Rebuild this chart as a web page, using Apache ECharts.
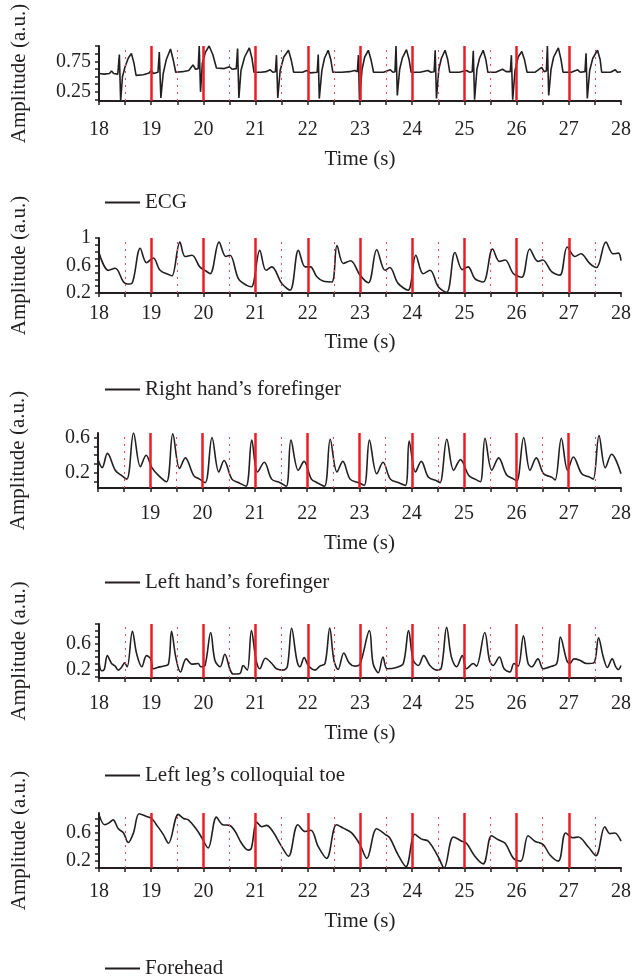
<!DOCTYPE html>
<html>
<head>
<meta charset="utf-8">
<script src="https://cdn.jsdelivr.net/npm/echarts@6/dist/echarts.min.js"></script>
<style>
html, body { margin: 0; padding: 0; background: #fff; }
#main { width: 635px; height: 976px; }
</style>
</head>
<body>
<div id="main"></div>
<script>
// time ticks / labels
var timeTicks = [18, 18.5, 19, 19.5, 20, 20.5, 21, 21.5, 22, 22.5, 23, 23.5, 24, 24.5, 25, 25.5, 26, 26.5, 27, 27.5, 28];
var timeLabels = [18, 19, 20, 21, 22, 23, 24, 25, 26, 27, 28];
var redSolid = [19, 20, 21, 22, 23, 24, 25, 26, 27];
var redDotted = [18.5, 19.5, 20.5, 21.5, 22.5, 23.5, 24.5, 25.5, 26.5, 27.5];

var seriesNames = ['ECG', 'Right hand\u2019s forefinger', 'Left hand\u2019s forefinger', 'Left leg\u2019s colloquial toe', 'Forehead'];

// ECG
var ecg = [
  [18.00,0.55],[18.10,0.54],[18.20,0.55],[18.24,0.59],[18.28,0.55],[18.36,0.54],[18.39,0.86],[18.415,0.10],[18.45,0.50],[18.50,0.66],[18.56,0.80],[18.62,0.88],[18.67,0.72],[18.71,0.52],[18.85,0.53],[18.96,0.56],[19.00,0.60],[19.04,0.55],[19.13,0.57],
  [19.155,0.90],[19.185,0.15],[19.23,0.55],[19.29,0.78],[19.37,0.95],[19.42,0.78],[19.47,0.57],[19.60,0.58],[19.72,0.60],[19.80,0.69],[19.85,0.62],[19.90,0.63],
  [19.92,1.00],[19.945,0.25],[19.98,0.72],[20.04,0.90],[20.11,1.00],[20.18,0.86],[20.25,0.64],[20.40,0.63],[20.50,0.66],[20.55,0.62],[20.63,0.63],
  [20.655,0.96],[20.68,0.15],[20.72,0.60],[20.79,0.82],[20.88,0.97],[20.93,0.80],[20.97,0.57],[21.10,0.57],[21.20,0.58],[21.28,0.61],[21.33,0.57],[21.38,0.58],
  [21.40,0.85],[21.425,0.15],[21.47,0.60],[21.54,0.82],[21.63,0.93],[21.68,0.78],[21.73,0.57],[21.90,0.57],[21.98,0.60],[22.05,0.56],[22.18,0.57],
  [22.20,0.86],[22.22,0.14],[22.27,0.60],[22.32,0.80],[22.39,0.93],[22.44,0.78],[22.48,0.57],[22.65,0.57],[22.80,0.58],[22.90,0.60],[22.95,0.58],
  [22.97,0.85],[22.99,0.12],[23.04,0.62],[23.09,0.82],[23.16,0.93],[23.21,0.78],[23.26,0.57],[23.45,0.57],[23.58,0.61],[23.63,0.57],[23.67,0.58],
  [23.69,1.00],[23.715,0.19],[23.76,0.62],[23.81,0.80],[23.89,0.94],[23.94,0.78],[23.98,0.57],[24.15,0.57],[24.30,0.60],[24.36,0.57],[24.42,0.58],
  [24.44,0.93],[24.465,0.14],[24.51,0.62],[24.56,0.80],[24.63,0.93],[24.68,0.78],[24.72,0.57],[24.90,0.57],[25.04,0.60],[25.10,0.57],[25.15,0.58],
  [25.17,0.92],[25.195,0.12],[25.24,0.62],[25.29,0.80],[25.36,0.93],[25.41,0.78],[25.45,0.57],[25.60,0.57],[25.73,0.62],[25.80,0.58],[25.88,0.58],
  [25.90,0.85],[25.925,0.12],[25.97,0.60],[26.03,0.82],[26.10,0.91],[26.15,0.78],[26.20,0.57],[26.35,0.57],[26.48,0.65],[26.53,0.58],[26.57,0.59],
  [26.59,1.00],[26.615,0.19],[26.66,0.62],[26.71,0.82],[26.80,0.97],[26.85,0.78],[26.89,0.57],[27.05,0.57],[27.17,0.61],[27.22,0.57],[27.31,0.58],
  [27.33,0.88],[27.355,0.14],[27.40,0.60],[27.46,0.80],[27.55,0.93],[27.60,0.78],[27.63,0.57],[27.80,0.57],[27.89,0.61],[27.93,0.57],[28.00,0.58]
];

// right hand's forefinger
var rightHand = [
  [18.00,0.79],[18.18,0.53],[18.31,0.56],[18.47,0.36],[18.55,0.33],[18.63,0.34],[18.79,0.85],[18.91,0.64],[19.04,0.71],[19.17,0.53],[19.36,0.46],[19.40,0.45],
  [19.55,0.94],[19.65,0.73],[19.78,0.75],[19.93,0.58],[20.03,0.53],[20.13,0.48],[20.30,0.94],[20.43,0.73],[20.51,0.75],[20.67,0.41],[20.83,0.31],[20.92,0.29],
  [21.08,0.82],[21.20,0.53],[21.31,0.58],[21.50,0.34],[21.66,0.24],[21.82,0.82],[21.95,0.58],[22.05,0.58],[22.17,0.44],[22.30,0.37],[22.46,0.36],
  [22.56,0.89],[22.68,0.63],[22.82,0.67],[23.00,0.46],[23.16,0.35],[23.32,0.83],[23.48,0.53],[23.57,0.57],[23.73,0.34],[23.92,0.24],
  [24.07,0.75],[24.21,0.48],[24.34,0.53],[24.50,0.29],[24.66,0.21],[24.82,0.79],[24.96,0.54],[25.07,0.58],[25.20,0.41],[25.36,0.36],
  [25.54,0.84],[25.67,0.66],[25.78,0.68],[25.94,0.48],[26.10,0.43],[26.25,0.84],[26.41,0.66],[26.50,0.68],[26.67,0.51],[26.83,0.46],
  [26.97,0.87],[27.12,0.73],[27.23,0.77],[27.40,0.63],[27.53,0.57],[27.71,0.94],[27.85,0.77],[27.95,0.78],[28.00,0.67]
];

// left hand's forefinger
var leftHand = [
  [18.00,0.35],[18.08,0.26],[18.18,0.42],[18.33,0.23],[18.43,0.18],[18.55,0.13],[18.68,0.65],[18.81,0.27],[18.92,0.40],[19.03,0.26],[19.16,0.17],[19.31,0.10],
  [19.43,0.64],[19.56,0.25],[19.67,0.37],[19.83,0.17],[19.94,0.13],[20.05,0.09],[20.18,0.60],[20.31,0.21],[20.41,0.34],[20.56,0.13],[20.69,0.09],[20.83,0.05],
  [20.94,0.57],[21.05,0.21],[21.18,0.32],[21.32,0.13],[21.48,0.09],[21.60,0.05],[21.69,0.57],[21.83,0.23],[21.94,0.33],[22.08,0.13],[22.19,0.09],[22.33,0.05],
  [22.44,0.58],[22.57,0.21],[22.68,0.33],[22.82,0.13],[22.98,0.09],[23.09,0.06],[23.19,0.57],[23.33,0.19],[23.45,0.32],[23.59,0.13],[23.75,0.09],[23.88,0.06],
  [23.95,0.56],[24.07,0.21],[24.18,0.33],[24.32,0.15],[24.48,0.11],[24.54,0.09],[24.67,0.58],[24.80,0.23],[24.93,0.35],[25.09,0.17],[25.21,0.13],[25.31,0.10],
  [25.40,0.59],[25.53,0.23],[25.66,0.37],[25.81,0.18],[25.95,0.13],[26.01,0.11],[26.14,0.60],[26.26,0.23],[26.38,0.37],[26.52,0.19],[26.68,0.15],[26.74,0.12],
  [26.86,0.59],[26.98,0.23],[27.09,0.38],[27.25,0.19],[27.41,0.15],[27.47,0.13],[27.58,0.62],[27.70,0.26],[27.82,0.41],[28.00,0.19]
];

// left leg's colloquial toe
var leftToe = [
  [18.00,0.33],[18.05,0.19],[18.10,0.21],[18.16,0.42],[18.24,0.30],[18.31,0.26],[18.37,0.20],[18.43,0.24],[18.49,0.31],[18.54,0.25],[18.64,0.79],[18.72,0.45],
  [18.82,0.25],[18.91,0.42],[18.99,0.37],[19.04,0.22],[19.12,0.24],[19.23,0.26],[19.33,0.29],[19.39,0.79],[19.47,0.40],[19.56,0.17],[19.67,0.37],[19.78,0.29],
  [19.90,0.30],[19.95,0.25],[20.03,0.27],[20.14,0.77],[20.22,0.35],[20.32,0.25],[20.41,0.44],[20.51,0.21],[20.57,0.14],[20.70,0.15],[20.76,0.27],[20.84,0.20],
  [20.92,0.80],[21.01,0.35],[21.08,0.22],[21.19,0.38],[21.31,0.30],[21.40,0.22],[21.53,0.20],[21.61,0.26],[21.69,0.84],[21.79,0.35],[21.85,0.25],[21.93,0.39],
  [22.01,0.27],[22.14,0.20],[22.23,0.26],[22.33,0.30],[22.42,0.84],[22.50,0.35],[22.58,0.21],[22.69,0.46],[22.79,0.31],[22.90,0.26],[23.00,0.29],[23.18,0.80],
  [23.25,0.30],[23.35,0.16],[23.44,0.40],[23.52,0.22],[23.70,0.24],[23.83,0.30],[23.93,0.80],[24.02,0.35],[24.12,0.27],[24.22,0.42],[24.34,0.27],[24.47,0.20],
  [24.56,0.24],[24.66,0.85],[24.75,0.40],[24.85,0.25],[24.96,0.42],[25.04,0.22],[25.17,0.30],[25.23,0.26],[25.39,0.77],[25.48,0.35],[25.55,0.27],[25.67,0.40],
  [25.76,0.22],[25.87,0.17],[25.95,0.30],[26.03,0.26],[26.13,0.72],[26.22,0.30],[26.29,0.25],[26.41,0.37],[26.51,0.22],[26.64,0.25],[26.77,0.30],[26.84,0.70],
  [26.96,0.35],[27.02,0.30],[27.10,0.37],[27.21,0.35],[27.34,0.30],[27.48,0.31],[27.57,0.69],[27.66,0.40],[27.74,0.24],[27.83,0.37],[27.90,0.25],[27.95,0.21],[28.00,0.27]
];

// forehead
var forehead = [
  [18.00,0.87],[18.11,0.72],[18.20,0.75],[18.27,0.79],[18.37,0.66],[18.47,0.60],[18.56,0.46],[18.66,0.60],[18.77,0.88],[18.91,0.84],[19.01,0.81],[19.10,0.72],
  [19.23,0.58],[19.33,0.45],[19.52,0.87],[19.62,0.81],[19.71,0.79],[19.87,0.65],[19.97,0.53],[20.09,0.38],[20.25,0.83],[20.37,0.72],[20.50,0.71],[20.61,0.62],
  [20.73,0.45],[20.86,0.35],[20.92,0.38],[21.02,0.76],[21.12,0.69],[21.21,0.71],[21.33,0.62],[21.50,0.40],[21.63,0.26],[21.81,0.72],[21.95,0.62],[22.06,0.64],
  [22.20,0.40],[22.36,0.23],[22.55,0.72],[22.68,0.67],[22.84,0.60],[23.00,0.43],[23.13,0.23],[23.32,0.66],[23.48,0.58],[23.57,0.53],[23.73,0.28],[23.88,0.11],
  [24.05,0.58],[24.18,0.51],[24.31,0.48],[24.50,0.25],[24.61,0.09],[24.79,0.54],[24.95,0.48],[25.04,0.45],[25.20,0.26],[25.36,0.15],[25.52,0.56],[25.65,0.50],
  [25.78,0.45],[25.94,0.23],[26.08,0.19],[26.22,0.56],[26.35,0.48],[26.51,0.43],[26.64,0.28],[26.80,0.19],[26.94,0.60],[27.08,0.53],[27.18,0.54],[27.37,0.40],
  [27.52,0.27],[27.69,0.69],[27.79,0.59],[27.88,0.60],[28.00,0.48]
];

var panelData = [ecg, rightHand, leftHand, leftToe, forehead];

// y axis ticks and labels per panel
var yTicks = [
  [0.125, 0.25, 0.375, 0.5, 0.625, 0.75, 0.875, 1.0],
  [0.2, 0.3, 0.4, 0.5, 0.6, 0.7, 0.8, 0.9, 1.0],
  [0.1, 0.2, 0.3, 0.4, 0.5, 0.6],
  [0.1, 0.2, 0.3, 0.4, 0.5, 0.6, 0.7, 0.8, 0.9],
  [0.1, 0.2, 0.3, 0.4, 0.5, 0.6, 0.7, 0.8]
];
var yLabels = [[0.25, 0.75], [0.2, 0.6, 1], [0.2, 0.6], [0.2, 0.6], [0.2, 0.6]];
var yRange = [[0.1, 1.0], [0.2, 1.0], [0.03, 0.65], [0.08, 0.9], [0.09, 0.89]];
var xLabelsPanel = [timeLabels, timeLabels, timeLabels.slice(1), timeLabels, timeLabels];

// layout
var layout = [
  { top: 46, height: 55, left: 99, labelMargin: 19, nameGap: 48, legendTop: 187 },
  { top: 238, height: 55, left: 99, labelMargin: 11, nameGap: 39, legendTop: 374 },
  { top: 433, height: 55, left: 98, labelMargin: 16, nameGap: 45, legendTop: 567 },
  { top: 624, height: 54, left: 99, labelMargin: 16, nameGap: 45, legendTop: 760 },
  { top: 813, height: 55, left: 99, labelMargin: 14, nameGap: 43, legendTop: 953 }
];

var ink = '#231f20';
var red = '#ec1c24';
var font = 'Liberation Serif';

var grids = [], xAxes = [], yAxes = [], series = [], legends = [];

var redLines = redSolid.map(function (v) {
  return { xAxis: v, lineStyle: { color: red, width: 2.5, type: 'solid' } };
}).concat(redDotted.map(function (v) {
  return { xAxis: v, lineStyle: { color: '#f04a4f', width: 1, type: [2, 5] } };
}));

for (var i = 0; i < 5; i++) {
  var L = layout[i];
  grids.push({ left: L.left, right: 14, top: L.top, height: L.height });
  xAxes.push({
    type: 'value', gridIndex: i, min: 18, max: 28,
    name: 'Time (s)', nameLocation: 'middle', nameGap: L.nameGap,
    nameTextStyle: { fontFamily: font, fontSize: 21, color: ink },
    axisLine: { onZero: false, lineStyle: { color: ink, width: 2 } },
    axisTick: { customValues: timeTicks, length: 4, lineStyle: { color: ink, width: 1.5 } },
    axisLabel: { customValues: xLabelsPanel[i], margin: L.labelMargin, fontFamily: font, fontSize: 20, color: ink },
    splitLine: { show: false }
  });
  yAxes.push({
    type: 'value', gridIndex: i, min: yRange[i][0], max: yRange[i][1],
    name: 'Amplitude (a.u.)', nameLocation: 'middle', nameGap: 69,
    nameTextStyle: { fontFamily: font, fontSize: 21, color: ink },
    axisLine: { show: true, onZero: false, lineStyle: { color: ink, width: 2 } },
    axisTick: { show: true, customValues: yTicks[i], length: 4, lineStyle: { color: ink, width: 1.5 } },
    axisLabel: { customValues: yLabels[i], margin: 8, fontFamily: font, fontSize: 20, color: ink },
    splitLine: { show: false }
  });
  series.push({
    name: seriesNames[i], type: 'line', xAxisIndex: i, yAxisIndex: i,
    data: panelData[i], symbol: 'none', smooth: i === 0 ? false : 0.35,
    lineStyle: { color: ink, width: 1.6 }, itemStyle: { color: ink },
    markLine: { symbol: 'none', silent: true, label: { show: false }, data: redLines }
  });
  legends.push({
    data: [seriesNames[i]], left: 100, top: L.legendTop,
    icon: 'rect', itemWidth: 35, itemHeight: 2, itemGap: 9,
    textStyle: { fontFamily: font, fontSize: 21, color: ink }
  });
}

var myChart = echarts.init(document.getElementById('main'));
var option = {
  animation: false,
  backgroundColor: '#fff',
  grid: grids,
  xAxis: xAxes,
  yAxis: yAxes,
  legend: legends,
  series: series
};
myChart.setOption(option);
window.onresize = myChart.resize;
</script>
</body>
</html>
